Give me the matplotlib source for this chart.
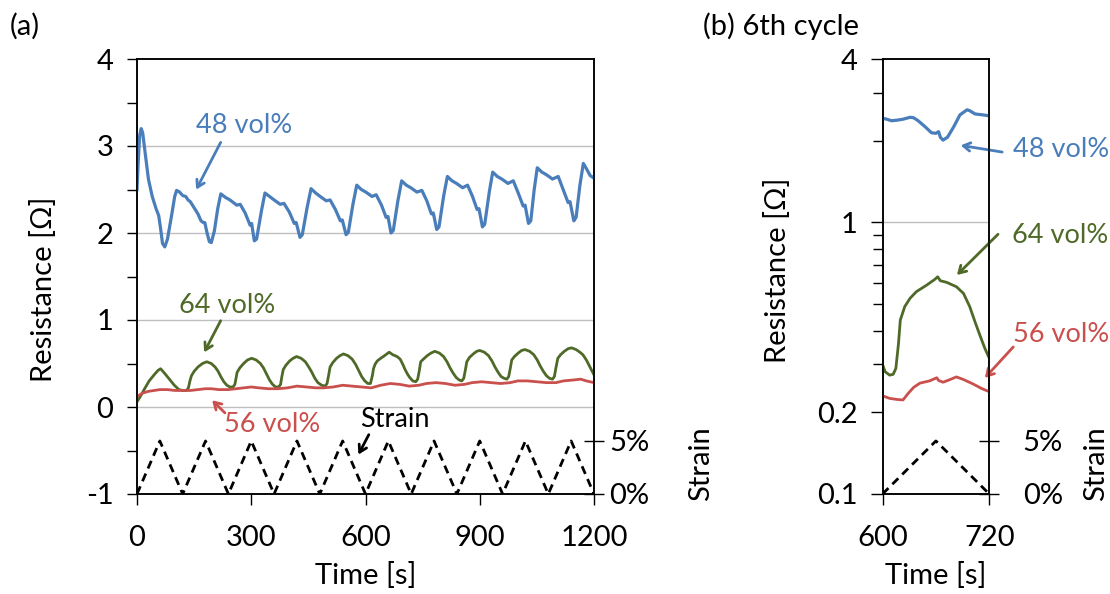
import numpy as np
import matplotlib.pyplot as plt
from matplotlib.ticker import FixedLocator, NullFormatter

plt.rcParams['font.family'] = ['Lato', 'DejaVu Sans']
plt.rcParams['axes.unicode_minus'] = False

# -----------------------------
# DATA
# -----------------------------
# (a) full test, 0-1200 s
t_48 = [0, 3, 7, 11, 15, 22, 30, 40, 50, 57, 62, 67, 73, 80, 90, 99,
        104, 112, 120, 128, 134, 140, 150, 160, 168, 174, 178, 184, 190, 195, 203, 212,
        220, 232, 244, 262, 271, 284, 297, 301, 308, 314, 327,
        336, 348, 360, 376, 386, 400, 413, 418, 428, 434, 447,
        457, 469, 481, 497, 507, 521, 534, 539, 549, 555, 567,
        577, 589, 601, 617, 628, 642, 654, 659, 667, 673, 685,
        695, 707, 719, 735, 748, 761, 773, 778, 787, 793, 805,
        815, 827, 839, 855, 868, 881, 893, 898, 907, 913, 925,
        934, 946, 958, 974, 988, 1001, 1014, 1019, 1028, 1034, 1043,
        1051, 1063, 1075, 1091, 1106, 1119, 1132, 1137, 1147, 1153, 1163,
        1172, 1180, 1190, 1200]
r_48 = [2.50, 2.80, 3.12, 3.20, 3.15, 2.90, 2.62, 2.42, 2.28, 2.20, 2.05, 1.88, 1.84, 1.93, 2.18, 2.42,
        2.49, 2.47, 2.43, 2.42, 2.38, 2.36, 2.29, 2.22, 2.14, 2.12, 2.12, 2.00, 1.90, 1.89, 2.02, 2.28,
        2.45, 2.41, 2.38, 2.32, 2.33, 2.23, 2.09, 2.11, 1.91, 1.93, 2.26,
        2.46, 2.42, 2.38, 2.33, 2.34, 2.24, 2.11, 2.12, 1.95, 1.98, 2.30,
        2.51, 2.46, 2.42, 2.37, 2.38, 2.27, 2.14, 2.15, 1.98, 2.01, 2.33,
        2.55, 2.50, 2.47, 2.42, 2.44, 2.32, 2.18, 2.19, 2.00, 2.03, 2.37,
        2.60, 2.55, 2.52, 2.47, 2.49, 2.37, 2.22, 2.23, 2.04, 2.07, 2.42,
        2.65, 2.60, 2.57, 2.52, 2.55, 2.42, 2.27, 2.28, 2.07, 2.10, 2.47,
        2.70, 2.65, 2.62, 2.57, 2.60, 2.46, 2.31, 2.32, 2.11, 2.14, 2.50,
        2.75, 2.70, 2.67, 2.62, 2.65, 2.50, 2.35, 2.36, 2.14, 2.18, 2.55,
        2.80, 2.74, 2.66, 2.63]

t_64 = [0, 10, 20, 32, 45, 55, 62, 72, 85, 98, 110, 120, 130,
        135, 139, 143, 150, 160, 172, 183, 195, 205, 213, 220, 228, 236, 244, 252,
        257, 260, 263, 270, 280, 290, 301, 313, 324, 332, 340, 348, 356, 364, 372,
        377, 380, 384, 391, 401, 410, 419, 431, 442, 451, 459, 467, 475, 485, 494,
        499, 503, 507, 514, 524, 533, 542, 554, 565, 574, 582, 590, 598, 606, 613,
        618, 621, 625, 631, 640, 650, 662, 672, 683, 691, 698, 704, 710, 716, 724, 732,
        737, 741, 745, 752, 762, 772, 782, 794, 805, 814, 822, 830, 838, 846, 853,
        858, 862, 866, 873, 883, 892, 900, 912, 923, 932, 940, 948, 956, 964, 971,
        976, 980, 984, 991, 1001, 1010, 1019, 1031, 1042, 1051, 1059, 1067, 1075, 1083, 1091,
        1096, 1100, 1105, 1112, 1122, 1132, 1141, 1153, 1163, 1171, 1180, 1188, 1194, 1200]
r_64 = [0.06, 0.13, 0.21, 0.30, 0.37, 0.42, 0.44, 0.39, 0.32, 0.25, 0.20, 0.19, 0.19,
        0.22, 0.30, 0.36, 0.41, 0.46, 0.50, 0.52, 0.50, 0.46, 0.41, 0.35, 0.29, 0.25, 0.23, 0.23,
        0.26, 0.33, 0.40, 0.45, 0.50, 0.54, 0.56, 0.54, 0.50, 0.45, 0.38, 0.31, 0.26, 0.23, 0.23,
        0.26, 0.34, 0.43, 0.48, 0.53, 0.56, 0.58, 0.56, 0.52, 0.46, 0.40, 0.33, 0.28, 0.25, 0.24,
        0.27, 0.36, 0.46, 0.51, 0.56, 0.59, 0.61, 0.59, 0.55, 0.49, 0.42, 0.35, 0.30, 0.27, 0.27,
        0.36, 0.44, 0.49, 0.53, 0.56, 0.59, 0.63, 0.60, 0.58, 0.55, 0.49, 0.43, 0.38, 0.34, 0.30, 0.29,
        0.32, 0.41, 0.52, 0.55, 0.59, 0.62, 0.64, 0.62, 0.58, 0.52, 0.45, 0.39, 0.34, 0.31, 0.30,
        0.33, 0.42, 0.52, 0.57, 0.61, 0.64, 0.65, 0.63, 0.59, 0.53, 0.46, 0.40, 0.35, 0.33, 0.32,
        0.35, 0.44, 0.54, 0.58, 0.62, 0.65, 0.66, 0.64, 0.60, 0.54, 0.47, 0.41, 0.36, 0.33, 0.32,
        0.35, 0.45, 0.56, 0.60, 0.64, 0.67, 0.68, 0.66, 0.63, 0.60, 0.54, 0.47, 0.42, 0.37]

t_56 = [0, 15, 30, 45, 60, 80, 100, 120, 140, 160, 180, 195, 215, 240, 260, 280, 300,
        320, 345, 370, 395, 420, 445, 470, 490, 515, 540, 565, 590, 615, 640, 665,
        690, 715, 740, 760, 785, 810, 835, 860, 880, 905, 930, 955, 980, 1000, 1025,
        1050, 1075, 1100, 1120, 1145, 1165, 1180, 1200]
r_56 = [0.12, 0.16, 0.18, 0.19, 0.20, 0.20, 0.19, 0.19, 0.19, 0.20, 0.21, 0.21, 0.20, 0.20, 0.21, 0.22, 0.23,
        0.22, 0.21, 0.21, 0.22, 0.24, 0.23, 0.22, 0.22, 0.23, 0.25, 0.24, 0.23, 0.22, 0.25, 0.27,
        0.26, 0.24, 0.25, 0.27, 0.28, 0.27, 0.25, 0.26, 0.28, 0.29, 0.28, 0.27, 0.28, 0.30, 0.30,
        0.29, 0.28, 0.28, 0.30, 0.31, 0.32, 0.30, 0.28]

t_strain = [0, 60, 120, 180, 240, 300, 360, 420, 480, 540, 600,
            660, 720, 780, 840, 900, 960, 1020, 1080, 1140, 1200]
strain = [0, 5, 0, 5, 0, 5, 0, 5, 0, 5, 0, 5, 0, 5, 0, 5, 0, 5, 0, 5, 0]

# (b) 6th cycle, 600-720 s
t6_48 = [600, 605, 610, 616, 623, 631, 635, 640, 648, 655, 660, 663, 665, 668, 673, 680, 687, 695, 698, 704, 713, 720]
r6_48 = [2.42, 2.40, 2.37, 2.38, 2.40, 2.44, 2.43, 2.37, 2.25, 2.14, 2.13, 2.16, 2.06, 2.01, 2.06, 2.25, 2.49, 2.60, 2.58, 2.51, 2.49, 2.47]
t6_64 = [600, 603, 608, 612, 615, 618, 620, 625, 631, 638, 650, 659, 662, 665, 672, 683, 691, 698, 704, 710, 715, 720]
r6_64 = [0.30, 0.282, 0.274, 0.276, 0.29, 0.359, 0.437, 0.49, 0.526, 0.556, 0.589, 0.618, 0.631, 0.61, 0.602, 0.58, 0.548, 0.49, 0.43, 0.38, 0.344, 0.316]
t6_56 = [600, 608, 616, 623, 629, 635, 642, 653, 661, 663, 668, 676, 683, 691, 702, 711, 720]
r6_56 = [0.230, 0.225, 0.223, 0.222, 0.235, 0.247, 0.256, 0.261, 0.268, 0.262, 0.258, 0.264, 0.270, 0.264, 0.254, 0.245, 0.238]
t6_strain = [600, 660, 720]
strain6 = [0, 5, 0]

C48 = '#4A7EBB'
C64 = '#4F6A28'
C56 = '#C9504D'
GRID = '#BFBFBF'
FS = 21
ARROW = '->,head_length=0.5,head_width=0.3'

fig = plt.figure(figsize=(11.1, 5.94), dpi=100)

# -----------------------------
# (a)
# -----------------------------
ax = fig.add_axes([137/1110, 1-494/594, 457/1110, 435/594])
ax.plot(t_48, r_48, color=C48, lw=2.3, zorder=3)
ax.plot(t_64, r_64, color=C64, lw=2.0, zorder=3)
ax.plot(t_56, r_56, color=C56, lw=2.0, zorder=3)
ax.set_xlim(0, 1200)
ax.set_ylim(-1, 4)
ax.set_xticks([0, 300, 600, 900, 1200])
ax.set_yticks([-1, 0, 1, 2, 3, 4])
ax.yaxis.set_minor_locator(FixedLocator([-0.5, 0.5, 1.5, 2.5, 3.5]))
for y in [0, 1, 2, 3]:
    ax.axhline(y, color=GRID, lw=1.0, zorder=1)
ax.tick_params(axis='y', which='both', direction='out', length=7, width=1, labelsize=FS, pad=10)
ax.tick_params(axis='x', direction='out', length=8, width=1, labelsize=FS, pad=14)
ax.set_xlabel('Time [s]', fontsize=FS, labelpad=8)
ax.set_ylabel('Resistance [Ω]', fontsize=FS)
ax.yaxis.set_label_coords(-0.174, 0.47)
for s in ax.spines.values():
    s.set_linewidth(1.1)

ax2 = ax.twinx()
ax2.plot(t_strain, strain, color='black', lw=2.0, ls=(0, (3, 2)))
ax2.set_ylim(0, 41)
ax2.set_yticks([0, 5])
ax2.set_yticklabels(['0%', '5%'])
ax2.tick_params(axis='y', direction='inout', length=14, width=1, labelsize=FS, pad=4)
ax2.set_ylabel('Strain', fontsize=FS)
ax2.yaxis.set_label_coords(1.206, 0.07)
for s in ax2.spines.values():
    s.set_linewidth(1.1)

ax.annotate('', xy=(152, 2.47), xytext=(223, 3.07),
            arrowprops=dict(arrowstyle=ARROW, color=C48, lw=2))
ax.text(280, 3.15, '48 vol%', color=C48, fontsize=19.5, ha='center', va='baseline')
ax.annotate('', xy=(173, 0.60), xytext=(223, 1.02),
            arrowprops=dict(arrowstyle=ARROW, color=C64, lw=2))
ax.text(236, 1.08, '64 vol%', color=C64, fontsize=19.5, ha='center', va='baseline')
ax.annotate('', xy=(192, 0.10), xytext=(236, -0.09),
            arrowprops=dict(arrowstyle=ARROW, color=C56, lw=2))
ax.text(354, -0.29, '56 vol%', color=C56, fontsize=19.5, ha='center', va='baseline')
ax.annotate('', xy=(578, -0.575), xytext=(612, -0.29),
            arrowprops=dict(arrowstyle=ARROW, color='black', lw=2))
ax.text(677, -0.23, 'Strain', color='black', fontsize=19.5, ha='center', va='baseline')

# -----------------------------
# (b)
# -----------------------------
bx = fig.add_axes([882.5/1110, 1-494/594, 106.8/1110, 435/594])
bx.plot(t6_48, r6_48, color=C48, lw=2.3, zorder=3)
bx.plot(t6_64, r6_64, color=C64, lw=2.0, zorder=3)
bx.plot(t6_56, r6_56, color=C56, lw=2.0, zorder=3)
bx.set_yscale('log')
bx.set_xlim(600, 720)
bx.set_ylim(0.1, 4)
bx.set_xticks([600, 720])
bx.yaxis.set_major_locator(FixedLocator([0.1, 0.2, 1, 4]))
bx.yaxis.set_minor_locator(FixedLocator([0.3, 0.4, 0.5, 0.6, 0.7, 0.8, 0.9, 2, 3]))
bx.yaxis.set_minor_formatter(NullFormatter())
bx.set_yticklabels(['0.1', '0.2', '1', '4'])
bx.axhline(1, color=GRID, lw=1.0, zorder=1)
bx.tick_params(axis='y', which='major', direction='out', length=9, width=1, labelsize=FS, pad=9)
bx.tick_params(axis='y', which='minor', direction='out', length=7, width=1)
bx.tick_params(axis='x', direction='out', length=8, width=1, labelsize=FS, pad=14)
bx.set_xlabel('Time [s]', fontsize=FS, labelpad=8)
bx.set_ylabel('Resistance [Ω]', fontsize=FS)
bx.yaxis.set_label_coords(-0.86, 0.515)
for s in bx.spines.values():
    s.set_linewidth(1.1)

bx2 = bx.twinx()
bx2.plot(t6_strain, strain6, color='black', lw=2.0, ls=(0, (3, 2)))
bx2.set_ylim(0, 41)
bx2.set_yticks([0, 5])
bx2.set_yticklabels(['0%', '5%'])
bx2.tick_params(axis='y', direction='inout', length=14, width=1, labelsize=FS, pad=17)
bx2.set_ylabel('Strain', fontsize=FS)
bx2.yaxis.set_label_coords(1.877, 0.07)
for s in bx2.spines.values():
    s.set_linewidth(1.1)

bx.annotate('', xy=(684.8, 1.93), xytext=(737.6, 1.81),
            arrowprops=dict(arrowstyle=ARROW, color=C48, lw=2))
bx.text(746.6, 1.74, '48 vol%', color=C48, fontsize=19.5, ha='left', va='baseline')
bx.annotate('', xy=(681.4, 0.63), xytext=(732, 0.92),
            arrowprops=dict(arrowstyle=ARROW, color=C64, lw=2))
bx.text(745.5, 0.84, '64 vol%', color=C64, fontsize=19.5, ha='left', va='baseline')
bx.annotate('', xy=(712.9, 0.263), xytext=(749, 0.354),
            arrowprops=dict(arrowstyle=ARROW, color=C56, lw=2))
bx.text(746.6, 0.364, '56 vol%', color=C56, fontsize=19.5, ha='left', va='baseline')

fig.text(10/1110, 1-35/594, '(a)', fontsize=FS, va='baseline')
fig.text(703/1110, 1-35/594, '(b) 6th cycle', fontsize=FS, va='baseline')

plt.savefig('out.png', dpi=100)
